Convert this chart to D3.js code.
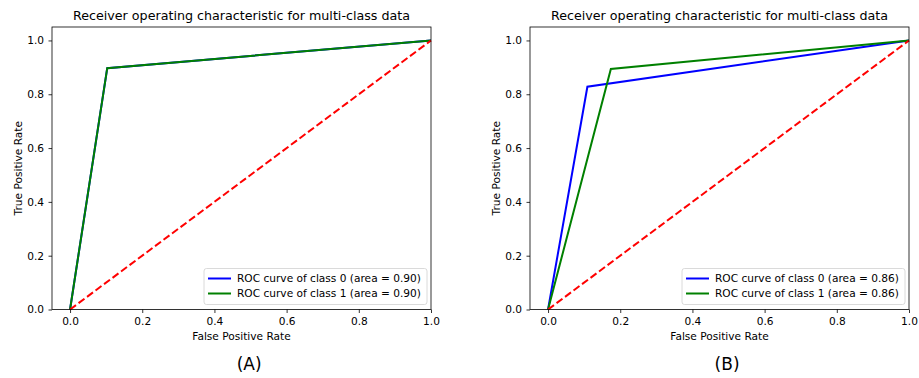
<!DOCTYPE html>
<html>
<head>
<meta charset="utf-8">
<script src="https://cdn.jsdelivr.net/npm/d3@7"></script>
<style>
  body { margin: 0; background: #fff; }
  text { font-family: "DejaVu Sans", sans-serif; fill: #000; }
</style>
</head>
<body>
<svg id="chart" width="919" height="378"></svg>
<script>
// ROC points
const fprA0 = [0, 0.103, 1];
const tprA0 = [0, 0.897, 1];
const fprA1 = [0, 0.103, 1];
const tprA1 = [0, 0.897, 1];
const fprB0 = [0, 0.109, 1];
const tprB0 = [0, 0.828, 1];
const fprB1 = [0, 0.174, 1];
const tprB1 = [0, 0.894, 1];
const aucA = ["0.90", "0.90"];
const aucB = ["0.86", "0.86"];
const chance = [0, 1];
const tickValues = [0, 0.2, 0.4, 0.6, 0.8, 1.0];
const panelLetters = ["(A)", "(B)"];
const classColors = ["blue", "green"];

const panels = [
    { left: 52, letter: panelLetters[0], auc: aucA, curves: [[fprA0, tprA0], [fprA1, tprA1]] },
    { left: 530, letter: panelLetters[1], auc: aucB, curves: [[fprB0, tprB0], [fprB1, tprB1]] }
];

const svg = d3.select("#chart");
const plotW = 379, plotTop = 27, plotH = 282.5;
const fs = 10.6;

panels.forEach(p => {
    const g = svg.append("g").attr("transform", `translate(${p.left},${plotTop})`);
    const x = d3.scaleLinear().domain([-0.05, 1.0]).range([0, plotW]);
    const y = d3.scaleLinear().domain([0, 1.05]).range([plotH, 0]);

    const line = d3.line()
        .x(d => x(d[0]))
        .y(d => y(d[1]));

    // one curve per class
    p.curves.forEach((c, i) => {
        const pts = c[0].map((v, k) => [v, c[1][k]]);
        g.append("path")
            .attr("d", line(pts))
            .attr("fill", "none")
            .attr("stroke", classColors[i])
            .attr("stroke-width", 2);
    });

    // chance diagonal
    g.append("path")
        .attr("d", line(chance.map(v => [v, v])))
        .attr("fill", "none")
        .attr("stroke", "red")
        .attr("stroke-width", 2)
        .attr("stroke-dasharray", "7.4,3.2");

    const xAxis = g.append("g")
        .attr("transform", `translate(0,${plotH})`)
        .call(d3.axisBottom(x).tickValues(tickValues).tickFormat(d3.format(".1f")).tickSize(3.5).tickPadding(4.5));
    const yAxis = g.append("g")
        .call(d3.axisLeft(y).tickValues(tickValues).tickFormat(d3.format(".1f")).tickSize(3.5).tickPadding(4.5));
    [xAxis, yAxis].forEach(a => {
        a.select(".domain").remove();
        a.selectAll("line").attr("stroke", "#000").attr("stroke-width", 0.8);
        a.selectAll("text").attr("font-family", "DejaVu Sans").attr("font-size", fs).attr("fill", "#000");
    });

    g.append("rect")
        .attr("width", plotW).attr("height", plotH)
        .attr("fill", "none").attr("stroke", "#000").attr("stroke-width", 0.8);

    g.append("text")
        .attr("x", plotW / 2).attr("y", -7)
        .attr("text-anchor", "middle")
        .attr("font-size", 12.7)
        .text("Receiver operating characteristic for multi-class data");

    g.append("text")
        .attr("x", plotW / 2).attr("y", plotH + 30.5)
        .attr("text-anchor", "middle")
        .attr("font-size", fs)
        .text("False Positive Rate");

    g.append("text")
        .attr("transform", `translate(-30.3,${plotH / 2}) rotate(-90)`)
        .attr("text-anchor", "middle")
        .attr("font-size", fs)
        .text("True Positive Rate");

    // legend
    const lg = g.append("g").attr("transform", `translate(${plotW - 227},${plotH - 41})`);
    lg.append("rect")
        .attr("width", 223).attr("height", 36).attr("rx", 2.5)
        .attr("fill", "#fff").attr("fill-opacity", 0.8)
        .attr("stroke", "#d0d0d0").attr("stroke-width", 0.8);
    p.auc.forEach((a, i) => {
        const yy = 10 + i * 15;
        lg.append("line")
            .attr("x1", 4).attr("x2", 27).attr("y1", yy).attr("y2", yy)
            .attr("stroke", classColors[i]).attr("stroke-width", 2);
        lg.append("text")
            .attr("x", 33).attr("y", yy + 3.8)
            .attr("font-size", fs)
            .text(`ROC curve of class ${i} (area = ${a})`);
    });

    svg.append("text")
        .attr("x", p.left + plotW * 0.52).attr("y", 370)
        .attr("text-anchor", "middle")
        .attr("font-size", 17)
        .text(p.letter);
});
</script>
</body>
</html>
